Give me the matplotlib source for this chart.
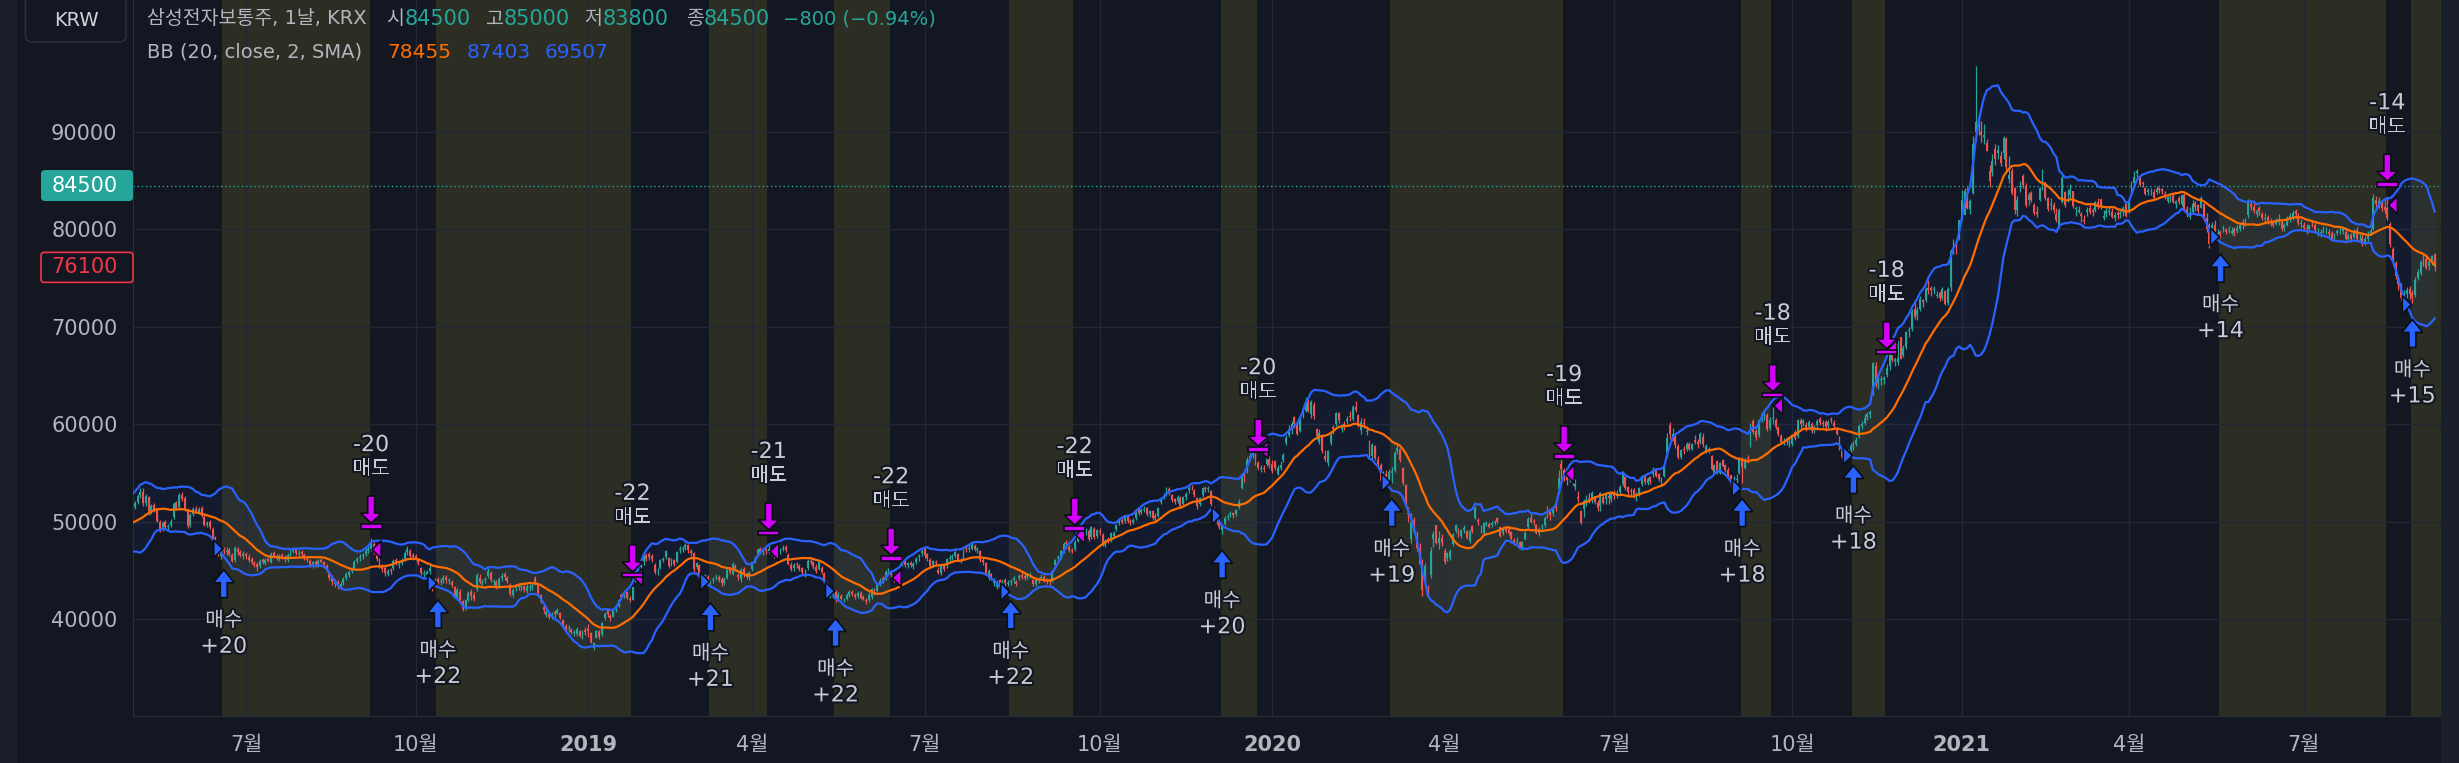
import numpy as np
import pandas as pd
import matplotlib.pyplot as plt
import matplotlib.patheffects as pe
import matplotlib.transforms as mtransforms
from matplotlib.patches import Polygon, FancyBboxPatch, Rectangle

plt.rcParams['font.family'] = ['DejaVu Sans', 'Noto Sans CJK KR']

# 삼성전자 일봉, 단위 100원. 2018-03-26 ~ 2021-09-07, 한 줄 = 한 달
close_px = [
    497, 501, 492, 496, 500,
    485, 480, 476, 483, 478, 486, 492, 490, 497, 505, 511, 508, 517, 522, 521, 517, 516, 519, 526, 530,
    519, 526, 509, 516, 513, 501, 492, 499, 494, 495, 500, 518, 514, 527, 523, 513, 495, 507,
    513, 511, 513, 506, 497, 499, 494, 482, 477, 466, 470, 470, 470, 467, 460, 473, 469, 466, 467,
    465, 461, 458, 455, 453, 460, 458, 461, 460, 467, 465, 463, 465, 463, 462, 466, 470, 471, 468, 468, 467, 463,
    461, 455, 458, 456, 460, 459, 455, 450, 442, 438, 437, 434, 436, 441, 446, 448, 451, 459, 462, 464, 466, 470,
    472, 478, 469, 462, 455, 451, 447, 449, 449, 460, 457, 456, 461, 468, 472, 465, 464,
    463, 457, 447, 447, 448, 452, 431, 440, 438, 439, 442, 440, 439, 435, 425, 430, 420, 410, 419, 427, 424,
    421, 445, 438, 438, 441, 449, 440, 439, 433, 441, 444, 443, 439, 426, 430, 434, 433, 433, 430, 433, 433, 434,
    438, 427, 418, 409, 407, 402, 405, 405, 409, 401, 394, 390, 391, 387, 386, 390, 383, 387, 387,
    388, 376, 375, 388, 381, 396, 405, 405, 401, 409, 412, 420, 423, 428, 422, 420, 433, 448, 451, 455, 464, 462,
    464, 462, 448, 450, 461, 462, 470, 454, 462, 456, 469, 472, 472, 476, 471, 468, 451,
    457, 443, 440, 445, 438, 437, 441, 443, 440, 437, 441, 450, 448, 456, 452, 443, 450, 445, 443, 447,
    458, 462, 471, 469, 470, 470, 472, 467, 465, 469, 471, 473, 471, 456, 451, 455, 455, 451, 448, 447, 460, 459,
    453, 449, 458, 448, 439, 429, 426, 427, 421, 425, 421, 420, 425, 428, 426, 423, 427, 422, 421, 418, 425,
    431, 427, 435, 439, 440, 448, 449, 445, 440, 446, 448, 460, 455, 457, 455, 456, 462, 465, 470,
    466, 463, 454, 460, 457, 447, 454, 451, 462, 463, 465, 469, 461, 461, 471, 472, 473, 476, 472, 472, 461, 458, 447,
    449, 442, 439, 437, 434, 438, 437, 437, 438, 442, 436, 444, 443, 442, 445, 445, 436, 440, 439, 443, 440,
    438, 438, 449, 461, 463, 470, 477, 477, 471, 470, 479, 492, 492, 489, 491, 482, 494, 484, 491,
    489, 476, 480, 480, 488, 488, 496, 502, 500, 505, 501, 500, 502, 511, 509, 512, 513, 508, 511, 504, 504,
    514, 523, 527, 533, 529, 522, 520, 525, 516, 525, 528, 534, 535, 527, 516, 524, 534, 533, 534, 518, 503,
    504, 494, 495, 504, 506, 508, 507, 512, 520, 547, 547, 563, 567, 571, 560, 555, 555, 554, 565, 558,
    552, 555, 555, 558, 568, 586, 595, 600, 600, 590, 607, 613, 624, 614, 623, 608, 588, 591, 572, 564,
    572, 589, 595, 611, 604, 597, 599, 605, 607, 618, 615, 598, 602, 600, 592, 568, 579, 565, 559, 542,
    548, 545, 551, 552, 570, 576, 563, 540, 521, 508, 500, 489, 473, 456, 430, 454, 425, 470, 487, 478, 483, 478,
    458, 468, 470, 487, 496, 486, 491, 493, 483, 490, 490, 514, 500, 493, 499, 499, 494, 499, 499, 500,
    485, 492, 490, 488, 482, 479, 480, 473, 479, 488, 503, 500, 500, 488, 492, 495, 504, 508, 507,
    512, 514, 545, 554, 546, 543, 549, 542, 539, 523, 499, 521, 522, 523, 529, 520, 514, 529, 519, 528, 524, 528,
    526, 529, 536, 550, 534, 530, 530, 527, 526, 534, 547, 541, 544, 542, 553, 547, 544, 542, 556, 586, 590, 590, 579,
    566, 573, 573, 580, 575, 580, 582, 580, 590, 580, 578, 572, 554, 558, 552, 560, 557, 553, 547, 540,
    542, 544, 564, 556, 563, 564, 600, 592, 587, 604, 610, 610, 595, 604, 606, 597, 590, 582, 583, 583, 582,
    587, 586, 604, 600, 603, 595, 602, 593, 597, 603, 601, 600, 597, 602, 604, 598, 590, 575, 566,
    566, 572, 578, 580, 584, 598, 600, 606, 610, 612, 663, 640, 646, 646, 647, 658, 672, 666, 667, 682, 667,
    678, 695, 697, 715, 710, 717, 729, 725, 739, 738, 738, 738, 733, 730, 739, 723, 739, 778, 787, 783, 810,
    830, 839, 822, 829, 888, 910, 906, 897, 897, 880, 850, 870, 872, 881, 868, 894, 864, 856, 837, 820,
    830, 844, 846, 825, 835, 830, 817, 816, 842, 849, 832, 821, 826, 820, 810, 820, 853, 825,
    836, 840, 824, 821, 820, 814, 809, 820, 818, 818, 828, 823, 823, 814, 819, 819, 813, 815, 815, 816, 822, 814,
    829, 848, 854, 860, 846, 847, 836, 840, 839, 832, 841, 840, 839, 833, 833, 833, 828, 829, 828, 835, 820, 817,
    817, 826, 823, 819, 832, 812, 800, 785, 805, 796, 796, 795, 801, 797, 799, 798, 796, 801, 805,
    806, 808, 828, 823, 819, 819, 819, 812, 811, 809, 808, 805, 809, 811, 800, 804, 812, 814, 817, 816, 807, 807,
    801, 800, 804, 804, 799, 797, 797, 799, 798, 795, 790, 794, 798, 799, 800, 790, 793, 790, 797, 790, 792, 785,
    790, 795, 798, 832, 826, 829, 822, 820, 812, 785, 768, 752, 744, 730, 733, 738, 734, 731, 748, 756, 767,
    768, 760, 766, 773, 761,
]
open_px = [
    495, 498, 500, 492, 497,
    498, 486, 481, 477, 484, 480, 487, 493, 491, 498, 506, 511, 509, 518, 522, 520, 517, 515, 520, 527,
    530, 519, 525, 510, 517, 512, 500, 493, 500, 494, 496, 505, 519, 515, 527, 524, 512, 496,
    508, 513, 510, 514, 505, 496, 500, 492, 483, 476, 465, 471, 469, 471, 466, 461, 472, 469, 465,
    467, 464, 462, 457, 456, 454, 461, 457, 462, 459, 468, 465, 462, 466, 463, 461, 467, 470, 472, 467, 469, 466,
    462, 460, 454, 459, 455, 461, 458, 454, 448, 443, 436, 438, 433, 437, 442, 445, 449, 452, 460, 463, 465, 467,
    471, 472, 477, 467, 461, 454, 452, 446, 450, 452, 461, 455, 457, 462, 469, 470, 466,
    465, 461, 452, 446, 445, 449, 438, 437, 441, 438, 440, 443, 439, 438, 433, 423, 428, 418, 412, 420, 428,
    425, 431, 442, 437, 440, 444, 447, 438, 438, 434, 442, 446, 442, 435, 425, 432, 435, 433, 434, 429, 432, 433,
    442, 435, 425, 412, 404, 405, 402, 407, 406, 406, 399, 393, 390, 389, 386, 385, 388, 381, 389,
    390, 386, 370, 380, 388, 385, 401, 409, 403, 402, 410, 413, 425, 424, 428, 421, 420, 440, 449, 453, 458, 466,
    467, 465, 455, 450, 452, 461, 464, 463, 455, 461, 458, 471, 472, 474, 476, 470, 468,
    453, 455, 443, 441, 443, 437, 440, 442, 443, 441, 437, 442, 452, 446, 454, 445, 441, 451, 446, 443,
    451, 460, 466, 472, 469, 471, 470, 470, 466, 466, 469, 472, 474, 466, 455, 452, 456, 454, 452, 447, 452, 460,
    459, 453, 451, 452, 446, 437, 426, 425, 428, 422, 424, 419, 421, 425, 428, 425, 424, 427, 423, 420, 419,
    423, 430, 429, 436, 442, 442, 449, 448, 444, 439, 445, 456, 460, 455, 457, 454, 458, 464, 468,
    472, 467, 461, 455, 458, 450, 447, 455, 454, 462, 464, 465, 467, 460, 463, 473, 472, 472, 475, 471, 470, 461, 457,
    442, 446, 437, 433, 440, 437, 440, 436, 438, 440, 438, 442, 445, 444, 443, 444, 440, 436, 440, 442, 443,
    440, 439, 439, 455, 463, 463, 470, 478, 474, 471, 472, 480, 493, 490, 488, 490, 484, 492, 485,
    490, 486, 476, 482, 481, 485, 492, 499, 502, 501, 506, 501, 500, 504, 512, 510, 512, 514, 508, 511, 506,
    506, 520, 527, 528, 533, 527, 523, 521, 524, 518, 525, 532, 536, 531, 524, 518, 527, 534, 533, 531, 515,
    503, 500, 491, 498, 505, 508, 509, 508, 515, 534, 549, 552, 565, 568, 568, 560, 554, 555, 559, 565,
    559, 562, 549, 555, 563, 581, 589, 594, 607, 600, 593, 611, 614, 623, 610, 620, 595, 582, 588, 567,
    560, 581, 597, 600, 611, 595, 600, 603, 608, 605, 618, 609, 594, 601, 592, 581, 567, 578, 563, 558,
    540, 549, 543, 550, 553, 572, 575, 555, 538, 509, 482, 502, 482, 473, 460, 441, 428, 445, 482, 496, 478, 483,
    470, 463, 463, 477, 490, 490, 485, 491, 490, 480, 495, 504, 502, 493, 488, 498, 498, 496, 499, 504,
    494, 488, 492, 492, 489, 481, 479, 479, 472, 482, 494, 504, 501, 497, 488, 494, 496, 510, 510,
    509, 516, 533, 559, 553, 549, 543, 547, 535, 525, 511, 513, 521, 524, 524, 526, 519, 516, 525, 523, 526, 523,
    530, 526, 530, 539, 546, 535, 531, 532, 526, 528, 539, 547, 540, 546, 549, 554, 549, 542, 547, 570, 599, 587, 588,
    578, 566, 575, 575, 580, 575, 584, 582, 582, 587, 574, 575, 567, 550, 562, 550, 563, 558, 553, 548,
    541, 543, 550, 562, 555, 565, 578, 603, 593, 589, 606, 609, 609, 596, 605, 604, 596, 588, 581, 584, 582,
    580, 592, 588, 604, 601, 599, 597, 600, 594, 599, 605, 601, 602, 599, 605, 601, 595, 586, 572,
    567, 566, 573, 579, 580, 588, 598, 601, 607, 610, 637, 660, 642, 645, 645, 651, 660, 675, 665, 664, 690,
    671, 679, 696, 698, 718, 712, 718, 727, 727, 740, 740, 738, 732, 735, 730, 737, 724, 741, 781, 785, 791,
    812, 815, 837, 821, 837, 900, 905, 900, 895, 889, 860, 859, 883, 878, 875, 878, 893, 852, 860, 842,
    820, 844, 855, 845, 830, 837, 825, 818, 830, 845, 849, 832, 825, 825, 816, 803, 828, 838,
    836, 835, 839, 821, 818, 816, 810, 818, 822, 820, 820, 828, 831, 812, 816, 818, 818, 812, 817, 816, 818, 826,
    820, 838, 848, 858, 854, 848, 842, 838, 839, 838, 838, 842, 841, 836, 829, 833, 834, 826, 832, 826, 835, 821,
    813, 818, 827, 825, 822, 826, 812, 805, 790, 805, 794, 797, 800, 800, 798, 796, 800, 798, 800,
    808, 807, 815, 826, 823, 816, 822, 816, 811, 813, 809, 808, 806, 808, 808, 801, 805, 812, 813, 819, 814, 806,
    805, 801, 800, 805, 804, 797, 796, 799, 798, 797, 796, 791, 796, 799, 798, 797, 790, 794, 792, 799, 792, 791,
    786, 790, 796, 800, 830, 826, 829, 823, 822, 806, 780, 765, 751, 742, 729, 734, 739, 735, 733, 750, 755,
    770, 770, 762, 769, 775,
]
high_px = [
    499, 503, 501, 498, 502,
    499, 488, 483, 485, 485, 488, 494, 495, 499, 507, 514, 513, 519, 525, 526, 522, 519, 521, 528, 534,
    534, 528, 526, 518, 519, 514, 502, 501, 502, 498, 503, 520, 521, 529, 530, 526, 514, 509,
    515, 516, 515, 516, 507, 501, 502, 494, 485, 478, 473, 474, 474, 473, 468, 475, 474, 471, 470,
    469, 467, 464, 460, 458, 462, 463, 463, 464, 469, 470, 467, 467, 468, 466, 468, 472, 474, 473, 471, 471, 468,
    464, 462, 460, 461, 462, 463, 460, 456, 449, 445, 441, 440, 438, 443, 448, 450, 453, 461, 464, 467, 468, 473,
    475, 483, 479, 469, 463, 456, 454, 451, 452, 462, 463, 458, 463, 470, 475, 472, 468,
    467, 462, 453, 450, 450, 455, 441, 442, 443, 442, 445, 445, 442, 440, 434, 432, 431, 419, 421, 429, 431,
    428, 447, 446, 441, 443, 452, 449, 441, 440, 443, 447, 448, 444, 437, 432, 436, 437, 436, 435, 436, 436, 437,
    444, 436, 426, 414, 410, 407, 407, 409, 411, 407, 400, 395, 394, 391, 389, 392, 389, 389, 392,
    395, 387, 376, 389, 389, 397, 407, 410, 405, 410, 415, 421, 427, 429, 429, 424, 433, 449, 454, 458, 466, 468,
    469, 467, 457, 452, 462, 464, 471, 464, 463, 462, 470, 475, 475, 478, 477, 472, 469,
    459, 456, 445, 446, 445, 440, 443, 446, 445, 443, 443, 452, 453, 458, 456, 447, 452, 453, 448, 449,
    459, 465, 473, 474, 473, 473, 476, 472, 468, 471, 473, 476, 476, 468, 458, 457, 458, 456, 453, 451, 462, 463,
    460, 456, 459, 454, 448, 438, 430, 430, 430, 428, 426, 422, 427, 430, 430, 427, 429, 429, 425, 422, 428,
    432, 432, 437, 442, 444, 450, 452, 450, 445, 447, 450, 461, 461, 459, 460, 458, 464, 467, 472,
    474, 468, 463, 461, 461, 453, 456, 457, 463, 466, 467, 471, 468, 463, 472, 476, 476, 479, 477, 474, 471, 463, 459,
    451, 447, 442, 440, 441, 441, 442, 440, 441, 444, 440, 446, 448, 446, 447, 448, 441, 442, 443, 446, 445,
    442, 441, 450, 462, 466, 471, 479, 481, 476, 473, 481, 494, 497, 493, 493, 492, 495, 494, 492,
    493, 488, 482, 484, 489, 490, 498, 504, 504, 507, 507, 503, 504, 513, 514, 514, 516, 515, 512, 512, 509,
    515, 525, 529, 536, 535, 528, 524, 527, 526, 526, 530, 537, 538, 533, 525, 525, 536, 537, 537, 532, 515,
    507, 501, 496, 506, 508, 511, 510, 513, 523, 549, 552, 566, 570, 574, 570, 562, 558, 558, 567, 567,
    563, 563, 558, 562, 570, 589, 599, 603, 608, 602, 608, 615, 628, 626, 625, 623, 596, 595, 590, 573,
    574, 592, 599, 612, 613, 600, 603, 608, 614, 620, 624, 610, 606, 606, 598, 584, 581, 579, 567, 560,
    552, 553, 554, 556, 572, 580, 576, 556, 539, 515, 509, 505, 490, 478, 462, 457, 435, 474, 490, 497, 490, 487,
    473, 469, 472, 488, 498, 493, 492, 496, 491, 491, 496, 516, 504, 497, 500, 501, 500, 501, 502, 505,
    494, 494, 495, 494, 490, 483, 484, 480, 480, 490, 505, 508, 503, 498, 494, 498, 506, 516, 512,
    515, 518, 553, 568, 555, 551, 555, 548, 544, 531, 512, 523, 527, 529, 531, 526, 522, 530, 527, 530, 530, 531,
    532, 532, 538, 552, 547, 537, 534, 534, 530, 536, 548, 549, 546, 547, 556, 555, 550, 546, 557, 591, 602, 596, 589,
    580, 575, 578, 582, 582, 581, 589, 585, 592, 591, 580, 577, 568, 559, 563, 561, 564, 559, 556, 548,
    547, 549, 566, 566, 565, 568, 601, 605, 595, 605, 613, 614, 611, 607, 618, 606, 598, 590, 586, 587, 586,
    590, 594, 605, 606, 605, 602, 604, 602, 599, 605, 607, 604, 604, 604, 607, 604, 597, 588, 574,
    571, 575, 581, 583, 587, 600, 603, 610, 613, 615, 664, 664, 652, 649, 649, 662, 676, 679, 672, 685, 690,
    681, 696, 700, 718, 727, 720, 732, 729, 741, 748, 742, 742, 737, 737, 741, 738, 741, 780, 790, 789, 810,
    840, 842, 844, 831, 896, 968, 918, 911, 908, 893, 866, 877, 888, 887, 880, 896, 895, 875, 863, 843,
    834, 850, 857, 848, 838, 839, 827, 824, 844, 862, 849, 833, 832, 828, 822, 822, 857, 839,
    841, 847, 839, 824, 824, 818, 815, 823, 826, 822, 829, 832, 831, 820, 822, 823, 822, 818, 820, 820, 824, 827,
    831, 850, 860, 862, 856, 850, 843, 842, 842, 841, 845, 844, 842, 839, 834, 835, 836, 830, 834, 836, 837, 824,
    823, 830, 829, 826, 834, 827, 817, 807, 808, 810, 800, 799, 804, 801, 803, 802, 802, 804, 807,
    811, 812, 831, 829, 827, 821, 824, 818, 817, 815, 812, 810, 812, 816, 810, 807, 814, 817, 820, 821, 817, 811,
    808, 806, 805, 809, 807, 801, 800, 803, 802, 800, 798, 796, 800, 803, 802, 801, 796, 796, 800, 802, 795, 795,
    793, 798, 801, 836, 834, 833, 830, 831, 834, 808, 782, 768, 753, 745, 738, 741, 742, 738, 751, 759, 769,
    775, 774, 769, 774, 776,
]
low_px = [
    493, 496, 490, 490, 495,
    483, 478, 473, 475, 476, 478, 485, 488, 489, 496, 503, 505, 507, 515, 518, 514, 512, 513, 518, 524,
    516, 516, 507, 508, 510, 500, 489, 490, 492, 491, 494, 503, 512, 513, 521, 511, 493, 494,
    506, 509, 508, 505, 495, 494, 492, 480, 475, 465, 462, 467, 466, 465, 458, 459, 466, 464, 462,
    462, 459, 456, 453, 449, 452, 456, 455, 458, 457, 463, 461, 460, 462, 459, 459, 465, 468, 466, 465, 464, 461,
    458, 453, 452, 453, 453, 457, 453, 448, 440, 435, 433, 431, 431, 435, 440, 443, 447, 451, 457, 460, 462, 465,
    468, 470, 467, 460, 452, 448, 444, 444, 446, 450, 455, 452, 455, 460, 466, 463, 461,
    461, 455, 445, 443, 443, 446, 429, 433, 436, 435, 437, 437, 436, 433, 422, 420, 417, 408, 409, 418, 420,
    418, 429, 436, 434, 437, 442, 438, 435, 431, 432, 439, 440, 437, 424, 423, 429, 430, 429, 428, 427, 429, 430,
    435, 425, 416, 406, 402, 400, 400, 402, 405, 400, 392, 388, 387, 385, 383, 383, 381, 379, 384,
    381, 375, 368, 380, 379, 383, 399, 402, 398, 402, 407, 412, 421, 422, 421, 417, 419, 438, 445, 450, 455, 460,
    461, 458, 446, 445, 451, 458, 462, 452, 454, 454, 457, 468, 469, 471, 468, 465, 448,
    451, 442, 438, 439, 436, 433, 437, 440, 438, 434, 435, 441, 446, 445, 449, 440, 438, 443, 441, 440,
    449, 457, 465, 467, 466, 467, 468, 466, 463, 464, 467, 470, 469, 455, 449, 449, 452, 449, 446, 443, 450, 456,
    451, 447, 450, 446, 437, 427, 422, 422, 417, 419, 419, 417, 419, 423, 424, 421, 422, 421, 419, 415, 417,
    421, 425, 428, 434, 437, 440, 445, 443, 438, 437, 442, 454, 453, 452, 453, 451, 456, 460, 465,
    463, 460, 452, 453, 454, 446, 445, 449, 452, 459, 461, 463, 460, 457, 461, 469, 469, 471, 470, 468, 459, 455, 445,
    440, 440, 434, 431, 431, 434, 434, 434, 435, 437, 434, 440, 441, 440, 441, 442, 434, 434, 437, 440, 438,
    436, 435, 438, 453, 460, 462, 468, 473, 469, 468, 470, 479, 489, 487, 486, 480, 482, 482, 483,
    486, 475, 474, 478, 479, 484, 490, 497, 498, 499, 499, 497, 498, 502, 507, 508, 510, 506, 505, 502, 501,
    505, 518, 523, 526, 527, 520, 518, 519, 514, 516, 522, 529, 532, 525, 513, 516, 525, 530, 530, 516, 501,
    498, 492, 487, 497, 502, 505, 504, 506, 513, 533, 541, 550, 562, 565, 558, 553, 551, 551, 557, 555,
    550, 553, 548, 553, 561, 579, 587, 590, 596, 589, 592, 606, 612, 612, 606, 605, 585, 580, 570, 562,
    557, 579, 590, 598, 601, 592, 594, 600, 603, 603, 612, 597, 590, 596, 589, 566, 564, 563, 556, 540,
    535, 540, 541, 540, 551, 569, 561, 538, 515, 500, 478, 488, 470, 456, 424, 438, 423, 442, 474, 477, 472, 475,
    456, 460, 461, 475, 488, 484, 483, 488, 482, 478, 488, 503, 496, 488, 486, 495, 493, 494, 496, 499,
    484, 486, 488, 486, 481, 476, 477, 472, 471, 481, 493, 499, 497, 487, 485, 491, 494, 504, 502,
    506, 511, 529, 541, 542, 538, 541, 538, 532, 520, 498, 505, 516, 519, 519, 518, 511, 511, 518, 518, 518, 520,
    523, 524, 528, 537, 532, 527, 526, 524, 521, 526, 537, 539, 538, 539, 546, 546, 542, 537, 546, 566, 585, 583, 576,
    564, 564, 569, 572, 573, 573, 580, 576, 580, 577, 570, 570, 553, 550, 549, 549, 556, 551, 545, 536,
    537, 540, 549, 540, 554, 560, 577, 590, 584, 587, 602, 604, 593, 594, 600, 595, 588, 580, 579, 579, 577,
    578, 584, 586, 596, 598, 593, 595, 591, 591, 596, 599, 597, 593, 596, 601, 595, 589, 573, 564,
    562, 564, 571, 574, 578, 586, 595, 599, 604, 606, 630, 638, 636, 640, 641, 648, 656, 664, 660, 661, 667,
    669, 677, 690, 696, 708, 707, 716, 720, 725, 734, 732, 734, 730, 726, 727, 722, 722, 737, 775, 775, 789,
    810, 816, 821, 816, 836, 891, 897, 890, 888, 880, 843, 855, 866, 872, 865, 872, 861, 848, 835, 816,
    814, 838, 842, 823, 825, 828, 815, 813, 829, 840, 830, 819, 820, 817, 808, 801, 827, 823,
    828, 832, 822, 814, 817, 808, 806, 814, 816, 814, 818, 821, 821, 810, 813, 815, 812, 809, 811, 812, 814, 813,
    817, 837, 845, 854, 845, 844, 835, 835, 835, 830, 836, 837, 836, 831, 827, 828, 827, 822, 826, 824, 819, 813,
    811, 816, 819, 815, 822, 809, 797, 781, 788, 795, 792, 791, 797, 795, 796, 794, 793, 796, 798,
    800, 803, 812, 820, 817, 813, 815, 810, 806, 806, 803, 802, 804, 805, 798, 798, 803, 808, 810, 812, 805, 801,
    799, 795, 799, 802, 797, 793, 792, 796, 795, 792, 788, 788, 794, 795, 795, 789, 789, 787, 791, 789, 789, 783,
    784, 788, 794, 799, 823, 822, 819, 817, 810, 782, 765, 749, 738, 726, 725, 730, 729, 724, 731, 748, 753,
    762, 759, 758, 763, 757,
]

krx_holidays = [
    '2018-04-30', '2018-05-01', '2018-05-02', '2018-05-03', '2018-05-07', '2018-05-22',
    '2018-06-06', '2018-06-13', '2018-08-15', '2018-09-24', '2018-09-25', '2018-09-26',
    '2018-10-03', '2018-10-09', '2018-12-25', '2018-12-31',
    '2019-01-01', '2019-02-04', '2019-02-05', '2019-02-06', '2019-03-01', '2019-05-01',
    '2019-05-06', '2019-06-06', '2019-08-15', '2019-09-12', '2019-09-13', '2019-10-03',
    '2019-10-09', '2019-12-25', '2019-12-31',
    '2020-01-01', '2020-01-24', '2020-01-27', '2020-04-15', '2020-04-30', '2020-05-01',
    '2020-05-05', '2020-08-17', '2020-09-30', '2020-10-01', '2020-10-02', '2020-10-09',
    '2020-12-25', '2020-12-31',
    '2021-01-01', '2021-02-11', '2021-02-12', '2021-03-01', '2021-05-05', '2021-05-19',
    '2021-08-16',
]

buy_dates = ['2018-06-20', '2018-10-15', '2019-03-11', '2019-05-15', '2019-08-13', '2019-12-04',
             '2020-03-05', '2020-09-04', '2020-11-05', '2021-05-20', '2021-08-26']
buy_qty = [20, 22, 21, 22, 22, 20, 19, 18, 18, 14, 15]
sell_dates = ['2018-09-04', '2019-01-24', '2019-04-09', '2019-06-13', '2019-09-18', '2019-12-23',
              '2020-06-05', '2020-09-21', '2020-11-23', '2021-08-12']
sell_qty = [20, 22, 21, 22, 22, 20, 19, 18, 18, 14]

y_ticks = [40000, 50000, 60000, 70000, 80000, 90000]
last_price = 84500
last_close_visible = 76100
ohlc_names = ['시', '고', '저', '종']
ohlc_vals = ['84500', '85000', '83800', '84500']
change_txt = '−800 (−0.94%)'
bb_vals = ['78455', '87403', '69507']

# ---------------------------------------------------------------
dates = pd.bdate_range('2018-03-26', '2021-09-07', freq='C', holidays=krx_holidays)
n = min(len(dates), len(close_px), len(open_px), len(high_px), len(low_px))
dates = dates[:n]
o = np.array(open_px[:n], float) * 100
h = np.array(high_px[:n], float) * 100
l = np.array(low_px[:n], float) * 100
c = np.array(close_px[:n], float) * 100
x = np.arange(n)

cs = pd.Series(c)
mid = cs.rolling(20).mean().values
sd = cs.rolling(20).std(ddof=0).values
upper = mid + 2 * sd
lower = mid - 2 * sd

W, H = 2459, 763
BG = '#131722'
GRID = '#232733'
TXT = '#b2b5be'
GREEN, RED = '#26a69a', '#ef5350'
BLUE, ORANGE, MAGENTA = '#2962ff', '#ff6d00', '#d500f9'

fig = plt.figure(figsize=(W / 100, H / 100), dpi=100, facecolor=BG)
AX_L, AX_R, AX_B = 132.7, 2441.0, 716.0
ax = fig.add_axes([AX_L / W, 1 - AX_B / H, (AX_R - AX_L) / W, AX_B / H])
ax.set_facecolor(BG)
Y0, Y1 = 30040, 103550
start = int(dates.searchsorted(pd.Timestamp('2018-05-04')))
XL, XR = start - 3.74, n - 1 + 2.3

# 보유 구간 배경
bi = [int(dates.searchsorted(pd.Timestamp(d))) for d in buy_dates]
si = [int(dates.searchsorted(pd.Timestamp(d))) for d in sell_dates]
for k, b in enumerate(bi):
    e = si[k] if k < len(si) else n + 10
    ax.axvspan(b - 0.5, e - 0.5, color='#ffeb3b', alpha=0.11, lw=0, zorder=0)

# grid + ticks
for yv in y_ticks:
    ax.axhline(yv, color=GRID, lw=1, zorder=1)
tick_pos, tick_lab = [], []
for i in range(1, n):
    if dates[i].month != dates[i - 1].month and dates[i].month in (1, 4, 7, 10) and XL < i < XR:
        tick_pos.append(i)
        tick_lab.append(str(dates[i].year) if dates[i].month == 1 else f'{dates[i].month}월')
for p in tick_pos:
    ax.axvline(p, color=GRID, lw=1, zorder=1)
ax.set_xticks(tick_pos, tick_lab)
for t in ax.get_xticklabels():
    if t.get_text().isdigit():
        t.set_fontweight('bold')
ax.set_yticks(y_ticks, [str(v) for v in y_ticks])
ax.set_xlim(XL, XR)
ax.set_ylim(Y0, Y1)
ax.tick_params(axis='x', length=0, pad=13.5, labelsize=15, labelcolor=TXT)
ax.tick_params(axis='y', length=0, pad=11, labelsize=15, labelcolor=TXT)
for s in ['top', 'right']:
    ax.spines[s].set_visible(False)
for s in ['left', 'bottom']:
    ax.spines[s].set_color('#2a2e39')

# Bollinger bands
ax.fill_between(x, lower, upper, color=BLUE, alpha=0.06, lw=0, zorder=2)
ax.plot(x, upper, color=BLUE, lw=1.6, zorder=4)
ax.plot(x, lower, color=BLUE, lw=1.6, zorder=4)
ax.plot(x, mid, color=ORANGE, lw=1.6, zorder=4)

# candles
col = np.where(c >= o, GREEN, RED)
ax.vlines(x, l, h, colors=col, lw=0.9, zorder=3)
ax.bar(x, np.maximum(np.abs(c - o), 60), bottom=np.minimum(o, c), width=0.7, color=col, lw=0, zorder=3)

ax.axhline(last_price, color=GREEN, lw=1, ls=(0, (1, 2)), zorder=2)

# signals
halo = [pe.withStroke(linewidth=3, foreground=BG)]


def px_shape(xd, yd, pts, color):
    tr = fig.dpi_scale_trans + mtransforms.ScaledTranslation(xd, yd, ax.transData)
    ax.add_patch(Polygon(np.array(pts, float) / 100.0, closed=True, transform=tr,
                         fc=color, ec='#0b0e15', lw=1.2, zorder=7, clip_on=False))


def px_text(xd, yd, dy, s, size):
    ax.annotate(s, (xd, yd), xytext=(0, dy), textcoords='offset pixels', ha='center',
                va='center', fontsize=size, color='#c9ccd4', path_effects=halo, zorder=8)


up_arrow = [(0, -16), (10.5, -29), (3.5, -29), (3.5, -44), (-3.5, -44), (-3.5, -29), (-10.5, -29)]
down_arrow = [(0, 15), (10.5, 25), (3.5, 25), (3.5, 42), (-3.5, 42), (-3.5, 25), (-10.5, 25)]
sell_bar = [(-10.5, 9.5), (10.5, 9.5), (10.5, 14), (-10.5, 14)]
tri_right = [(-4.5, 9), (4.5, 0), (-4.5, -9)]
tri_left = [(4.5, 0), (-4.5, -9), (4.5, -18)]

for k, q in zip(bi, buy_qty):
    px_shape(k - 2, lower[k - 2], tri_right, BLUE)
    px_shape(k, l[k], up_arrow, BLUE)
    px_text(k, l[k], -67, '매수', 14.5)
    px_text(k, l[k], -93, f'+{q}', 16)
for k, q in zip(si, sell_qty):
    kk = min(k + 2, n - 1)
    px_shape(kk, upper[kk], tri_left, MAGENTA)
    px_shape(k, h[k], down_arrow, MAGENTA)
    px_shape(k, h[k], sell_bar, MAGENTA)
    px_text(k, h[k], 69, '매도', 14.5)
    px_text(k, h[k], 93, f'-{q}', 16)

# side strips and price labels (pixel coords)
ident = mtransforms.IdentityTransform()
fig.add_artist(Rectangle((0, 0), 17, H, transform=ident, fc='#1b1f2a', ec='none', zorder=1))
fig.add_artist(Rectangle((AX_R, 0), W - AX_R, H, transform=ident, fc='#1b1f2a', ec='none', zorder=1))


def ypix(p):
    return (H - AX_B) + (p - Y0) / (Y1 - Y0) * AX_B


yp = ypix(last_price)
fig.add_artist(FancyBboxPatch((41, yp - 15.5), 92, 31, boxstyle='round,pad=0,rounding_size=4',
                              transform=ident, fc=GREEN, ec='none', zorder=4))
fig.text(117.7 / W, yp / H, str(last_price), color='white', fontsize=15, ha='right', va='center', zorder=5)
yp = ypix(last_close_visible)
fig.add_artist(FancyBboxPatch((41, yp - 15), 92, 30, boxstyle='round,pad=0,rounding_size=3',
                              transform=ident, fc=BG, ec='#f23645', lw=1.2, zorder=4))
fig.text(117.7 / W, yp / H, str(last_close_visible), color='#f23645', fontsize=15, ha='right', va='center', zorder=5)

# header
fig.add_artist(FancyBboxPatch((25.5, H - 42), 100.5, 60, boxstyle='round,pad=0,rounding_size=7',
                              transform=ident, fc=BG, ec='#2a2e39', lw=1.2, zorder=4))
fig.text(76 / W, 1 - 20 / H, 'KRW', color='#d1d4dc', fontsize=14, ha='center', va='center', zorder=5)


def htext(xp, ypos, s, color, size=14):
    fig.text(xp / W, 1 - ypos / H, s, color=color, fontsize=size, ha='left', va='center', zorder=5)


htext(147, 19, '삼성전자보통주, 1날, KRX', TXT)
for xn, xv, nm, v in zip([386, 485, 584, 686], [405, 504, 603, 704], ohlc_names, ohlc_vals):
    htext(xn, 19, nm, TXT)
    htext(xv, 19, v, GREEN, 15)
htext(783, 19, change_txt, GREEN)
htext(147, 52, 'BB (20, close, 2, SMA)', TXT)
for xv, v, cc in zip([387, 467, 545], bb_vals, [ORANGE, BLUE, BLUE]):
    htext(xv, 52, v, cc, 14.5)

fig.savefig('out.png', dpi=100, facecolor=BG)
